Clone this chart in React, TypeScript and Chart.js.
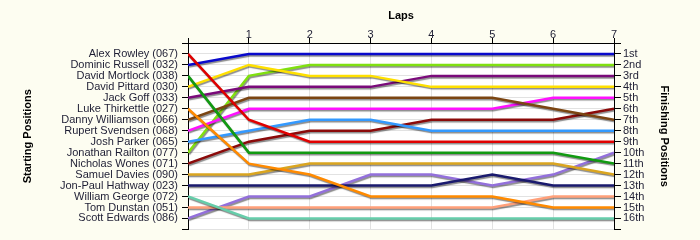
import React, { useEffect, useRef } from "react";
import { Chart, registerables } from "chart.js";

Chart.register(...registerables);

const laps = [0, 1, 2, 3, 4, 5, 6, 7];

const drivers = [
  "Alex Rowley (067)",
  "Dominic Russell (032)",
  "David Mortlock (038)",
  "David Pittard (030)",
  "Jack Goff (033)",
  "Luke Thirkettle (027)",
  "Danny Williamson (066)",
  "Rupert Svendsen (068)",
  "Josh Parker (065)",
  "Jonathan Railton (077)",
  "Nicholas Wones (071)",
  "Samuel Davies (090)",
  "Jon-Paul Hathway (023)",
  "William George (072)",
  "Tom Dunstan (051)",
  "Scott Edwards (086)",
];

const finishLabels = [
  "1st", "2nd", "3rd", "4th", "5th", "6th", "7th", "8th",
  "9th", "10th", "11th", "12th", "13th", "14th", "15th", "16th",
];

const alexRowley = [1, 7, 9, 9, 9, 9, 9, 9];
const dominicRussell = [2, 1, 1, 1, 1, 1, 1, 1];
const davidMortlock = [3, 10, 10, 10, 10, 10, 10, 11];
const davidPittard = [4, 2, 3, 3, 4, 4, 4, 4];
const jackGoff = [5, 4, 4, 4, 3, 3, 3, 3];
const lukeThirkettle = [6, 11, 12, 14, 14, 14, 15, 15];
const dannyWilliamson = [7, 5, 5, 5, 5, 5, 6, 7];
const rupertSvendsen = [8, 6, 6, 6, 6, 6, 5, 5];
const joshParker = [9, 8, 7, 7, 8, 8, 8, 8];
const jonathanRailton = [10, 3, 2, 2, 2, 2, 2, 2];
const nicholasWones = [11, 9, 8, 8, 7, 7, 7, 6];
const samuelDavies = [12, 12, 11, 11, 11, 11, 11, 12];
const jonPaulHathway = [13, 13, 13, 13, 13, 12, 13, 13];
const williamGeorge = [14, 16, 16, 16, 16, 16, 16, 16];
const tomDunstan = [15, 15, 15, 15, 15, 15, 14, 14];
const scottEdwards = [16, 14, 14, 12, 12, 13, 12, 10];

const positions = [
  alexRowley, dominicRussell, davidMortlock, davidPittard, jackGoff,
  lukeThirkettle, dannyWilliamson, rupertSvendsen, joshParker, jonathanRailton,
  nicholasWones, samuelDavies, jonPaulHathway, williamGeorge, tomDunstan, scottEdwards,
];

const colors = [
  "#E00000", "#0A0ACC", "#119A11", "#FFE000", "#7A0A7A", "#FF8A00",
  "#7B4512", "#FF10FF", "#3399FF", "#80E010", "#8B0A0A", "#DAA520",
  "#1A1A6E", "#66CDAA", "#FFA07A", "#9370DB",
];

const FONT = "'Liberation Sans', Arial, sans-serif";
const TEXT = "#1e1e34";
const GRID = "#E2E2E2";
const BG = "#FDFDF1";

const bgPlugin = {
  id: "bgPlugin",
  beforeDraw(chart: any) {
    const { ctx, chartArea } = chart;
    ctx.save();
    ctx.fillStyle = BG;
    ctx.fillRect(0, 0, chart.width, chart.height);
    ctx.fillStyle = "#FFFFFF";
    ctx.fillRect(chartArea.left, chartArea.top, chartArea.right - chartArea.left, chartArea.bottom - chartArea.top);
    ctx.restore();
  },
};

const shadowPlugin = {
  id: "lineShadow",
  beforeDatasetDraw(chart: any) {
    const c = chart.ctx;
    c.save();
    c.shadowColor = "rgba(0,0,0,0.45)";
    c.shadowBlur = 1;
    c.shadowOffsetX = 1;
    c.shadowOffsetY = 1.5;
  },
  afterDatasetDraw(chart: any) {
    chart.ctx.restore();
  },
};

export default function App() {
  const ref = useRef<HTMLCanvasElement | null>(null);

  useEffect(() => {
    if (!ref.current) return;
    const datasets = drivers.map((name, i) => ({
      label: name,
      data: positions[i].map((p, j) => ({ x: laps[j], y: p })),
      borderColor: colors[i],
      backgroundColor: colors[i],
      borderWidth: 2.5,
      pointRadius: 0,
      tension: 0,
      fill: false,
      yAxisID: "y",
    }));

    const chart = new Chart(ref.current, {
      type: "line",
      data: { datasets },
      options: {
        responsive: false,
        animation: false,
        layout: { padding: { top: 0, left: 0, right: 0, bottom: 9 } },
        plugins: { legend: { display: false }, tooltip: { enabled: false } },
        scales: {
          x: {
            type: "linear",
            position: "top",
            min: 0,
            max: 7,
            afterFit: (s: any) => { s.height = 43; },
            ticks: {
              stepSize: 1,
              padding: -4,
              color: TEXT,
              font: { family: FONT, size: 11 },
              callback: (v: any) => (v === 0 ? "" : String(v)),
            },
            grid: {
              color: (c: any) => (c.tick && (c.tick.value === 0 || c.tick.value === 7) ? "rgba(0,0,0,0)" : GRID),
              tickColor: "#000",
              tickLength: 5,
            },
            border: { color: "#000", width: 1 },
            title: {
              display: true,
              text: "Laps",
              color: "#000",
              font: { family: FONT, size: 11, weight: "bold" },
              padding: { top: 9, bottom: 0 },
            },
          },
          y: {
            type: "linear",
            position: "left",
            min: 0,
            max: 17,
            reverse: true,
            afterFit: (s: any) => { s.width = 188; },
            ticks: {
              stepSize: 1,
              maxTicksLimit: 100,
              autoSkip: false,
              padding: 4,
              color: TEXT,
              font: { family: FONT, size: 11 },
              callback: (v: any) => drivers[v - 1] ?? "",
            },
            grid: {
              color: (c: any) => (c.tick && c.tick.value === 0 ? "rgba(0,0,0,0)" : GRID),
              tickColor: "#000",
              tickLength: 6,
            },
            border: { color: "#000", width: 1 },
            title: {
              display: true,
              text: "Starting Positions",
              color: "#000",
              font: { family: FONT, size: 11, weight: "bold" },
              padding: { top: 21, bottom: 0 },
            },
          },
          y2: {
            type: "linear",
            position: "right",
            min: 0,
            max: 17,
            reverse: true,
            afterFit: (s: any) => { s.width = 86; },
            ticks: {
              stepSize: 1,
              maxTicksLimit: 100,
              autoSkip: false,
              padding: 2,
              color: TEXT,
              font: { family: FONT, size: 11 },
              callback: (v: any) => finishLabels[v - 1] ?? "",
            },
            grid: {
              drawOnChartArea: false,
              tickColor: "#000",
              tickLength: 7,
            },
            border: { color: "#000", width: 1 },
            title: {
              display: true,
              text: "Finishing Positions",
              color: "#000",
              font: { family: FONT, size: 11, weight: "bold" },
              padding: { top: 29, bottom: 0 },
            },
          },
        },
      } as any,
      plugins: [bgPlugin, shadowPlugin],
    });
    return () => chart.destroy();
  }, []);

  return (
    <div style={{ position: "absolute", left: 0, top: 0, width: 700, height: 240 }}>
      <canvas ref={ref} width={700} height={240} style={{ display: "block" }} />
    </div>
  );
}
